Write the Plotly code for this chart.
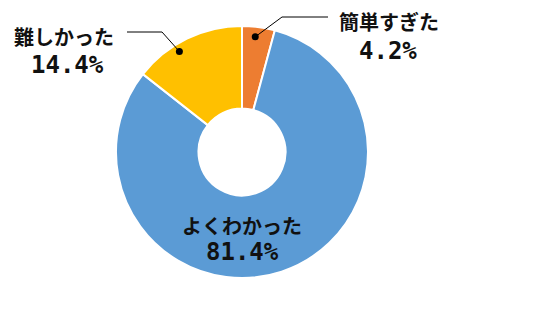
import math
import plotly.graph_objects as go

# ---- data ----
labels = ["簡単すぎた", "よくわかった", "難しかった"]
values = [4.2, 81.4, 14.4]
colors = ["#ED7D31", "#5B9BD5", "#FFC000"]

W, H = 555, 312
CX, CY, R = 242, 152, 126   # pie centre / radius in pixels
HOLE = 0.345
FONT = "Noto Sans CJK JP"
NUMFONT = "DejaVu Sans Mono"


def px(x):
    return x / W


def py(y):
    return 1 - y / H


fig = go.Figure()
fig.add_trace(go.Pie(
    labels=labels, values=values, sort=False, direction="clockwise", rotation=0,
    hole=HOLE, marker=dict(colors=colors, line=dict(color="white", width=2)),
    textinfo="none", hoverinfo="label+percent", showlegend=False,
    domain=dict(x=[px(CX - R), px(CX + R)], y=[py(CY + R), py(CY - R)]),
))

# slice mid-angles (clockwise from 12 o'clock) derived from the data
total = sum(values)
cum = 0
mids = []
for v in values:
    mids.append((cum + v / 2) / total * 360)
    cum += v

# label layout: name/percent line centres, leader path, angle nudge, dot radius fraction
layout_cfg = {
    0: dict(name=(389, 22), pct=(388, 51), path=[(328, 17), (282, 17)], nudge=-1.0, rf=0.92),
    1: dict(name=(242, 225), pct=(242, 252)),
    2: dict(name=(64, 36), pct=(67, 65), path=[(127, 32), (162, 32)], nudge=-6.0, rf=0.94),
}

shapes = []
annotations = []
for i, cfg in layout_cfg.items():
    if "path" in cfg:
        ang = math.radians(mids[i] + cfg["nudge"])
        dx = CX + R * cfg["rf"] * math.sin(ang)
        dy = CY - R * cfg["rf"] * math.cos(ang)
        pts = cfg["path"] + [(dx, dy)]
        path = "M " + " L ".join(f"{px(x)},{py(y)}" for x, y in pts)
        shapes.append(dict(type="path", xref="paper", yref="paper", path=path,
                           line=dict(color="black", width=1)))
        shapes.append(dict(type="circle", xref="paper", yref="paper",
                           xsizemode="pixel", ysizemode="pixel",
                           xanchor=px(dx), yanchor=py(dy),
                           x0=-3.5, x1=3.5, y0=-3.5, y1=3.5,
                           fillcolor="black", line=dict(width=0)))
    annotations.append(dict(text=f"<b>{labels[i]}</b>", x=px(cfg["name"][0]), y=py(cfg["name"][1]),
                            xref="paper", yref="paper", showarrow=False,
                            xanchor="center", yanchor="middle",
                            font=dict(family=FONT, size=20, color="#111")))
    annotations.append(dict(text=f"<b>{values[i]:.1f}%</b>", x=px(cfg["pct"][0]), y=py(cfg["pct"][1]),
                            xref="paper", yref="paper", showarrow=False,
                            xanchor="center", yanchor="middle",
                            font=dict(family=NUMFONT, size=24, color="#111")))

fig.update_layout(
    width=W, height=H, margin=dict(l=0, r=0, t=0, b=0),
    paper_bgcolor="white", plot_bgcolor="white",
    shapes=shapes, annotations=annotations,
)

fig.write_html("out.html")
